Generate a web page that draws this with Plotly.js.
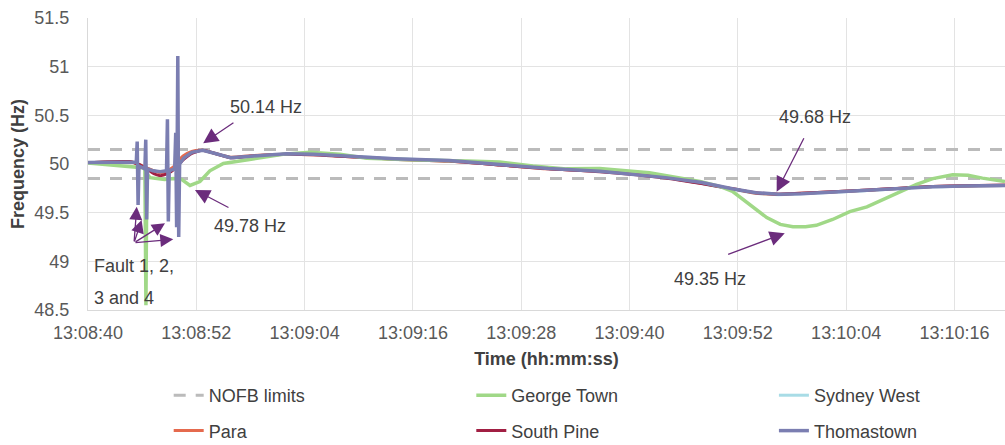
<!DOCTYPE html>
<html>
<head>
<meta charset="utf-8">
<script src="https://cdn.plot.ly/plotly-3.0.1.min.js"></script>
<style>html,body{margin:0;padding:0;background:#fff;}#chart{width:1005px;height:445px;}</style>
</head>
<body>
<div id="chart"></div>
<script>
// Time axis: seconds after 13:08:40
const tickSeconds = [0, 12, 24, 36, 48, 60, 72, 84, 96];
const tickLabels = ['13:08:40','13:08:52','13:09:04','13:09:16','13:09:28','13:09:40','13:09:52','13:10:04','13:10:16'];

const nofbTime = [0, 101.6, null, 0, 101.6];
const nofbFreq = [50.15, 50.15, null, 49.85, 49.85];

const thomastownTime = [0, 2, 4.6, 5.35, 5.45, 5.55, 5.65, 6.0, 6.3, 6.4, 6.5, 6.6, 7.2, 8.0, 8.7, 8.8, 8.9, 9.0, 9.4, 9.6, 9.72, 9.82, 9.95, 10.05, 10.15, 10.6, 11.5, 12.7, 14, 15.8, 18, 22, 25, 28, 34, 40, 45.6, 51, 56.7, 60, 64, 68, 71.4, 74, 76.5, 79, 82, 86, 90, 93.6, 97, 101.6];
const thomastownFreq = [50.015, 50.02, 50.025, 50.02, 50.23, 49.58, 49.98, 49.96, 49.95, 50.25, 49.43, 49.95, 49.93, 49.92, 49.93, 50.46, 49.41, 49.93, 49.95, 49.95, 50.32, 49.35, 51.11, 49.25, 50.0, 50.06, 50.12, 50.14, 50.11, 50.065, 50.08, 50.105, 50.10, 50.085, 50.055, 50.035, 49.995, 49.955, 49.926, 49.90, 49.86, 49.81, 49.745, 49.705, 49.69, 49.695, 49.71, 49.725, 49.745, 49.765, 49.775, 49.78];

const georgeTownTime = [0, 3, 4.6, 5.5, 6.3, 6.42, 6.52, 6.87, 7.5, 8.5, 9.5, 10.4, 11.3, 12.4, 13.5, 15, 17.9, 21.6, 24.6, 27.9, 30.9, 36.4, 42, 45.6, 49.3, 53, 56.7, 62.2, 67.8, 70, 71.4, 73.3, 75.2, 76.7, 78.1, 79.5, 80.7, 82.5, 84.4, 86.3, 88, 89.9, 91.8, 93.6, 95.8, 97.5, 99.1, 101.6];
const georgeTownFreq = [50.01, 49.99, 49.975, 49.965, 49.96, 48.55, 49.9, 49.86, 49.85, 49.84, 49.85, 49.84, 49.78, 49.82, 49.93, 50.005, 50.046, 50.10, 50.12, 50.10, 50.06, 50.04, 50.03, 50.02, 49.98, 49.95, 49.955, 49.91, 49.82, 49.77, 49.72, 49.58, 49.45, 49.38, 49.355, 49.355, 49.37, 49.43, 49.51, 49.56, 49.63, 49.71, 49.79, 49.85, 49.89, 49.885, 49.855, 49.82];

const southPineTime = [0, 4.6, 5.5, 6.5, 7.3, 8.0, 8.8, 9.6, 10.5, 11.5, 12.7, 14, 15.8, 18, 22, 25, 28, 34, 40, 45.6, 51, 56.7, 64, 71.4, 74, 76.5, 79, 86, 93.6, 101.6];
const southPineFreq = [50.015, 50.025, 50.0, 49.95, 49.90, 49.88, 49.9, 49.95, 50.04, 50.11, 50.14, 50.11, 50.065, 50.08, 50.1, 50.095, 50.08, 50.05, 50.03, 49.99, 49.95, 49.92, 49.855, 49.745, 49.705, 49.69, 49.70, 49.73, 49.77, 49.785];

const paraTime = [0, 4.6, 5.5, 6.5, 7.3, 8.0, 8.8, 9.6, 10.5, 11.5, 12.7, 14, 15.8, 18, 22, 25, 28, 34, 40, 45.6, 51, 56.7, 64, 71.4, 74, 76.5, 79, 86, 93.6, 101.6];
const paraFreq = [50.015, 50.025, 50.0, 49.96, 49.93, 49.91, 49.93, 49.98, 50.08, 50.13, 50.14, 50.11, 50.07, 50.085, 50.1, 50.095, 50.08, 50.05, 50.03, 49.99, 49.95, 49.925, 49.86, 49.745, 49.70, 49.69, 49.70, 49.73, 49.77, 49.78];

const sydneyWestTime = [0, 4.6, 5.5, 6.5, 7.3, 8.0, 8.8, 9.6, 10.5, 11.5, 12.7, 14, 15.8, 18, 22, 25, 28, 34, 40, 45.6, 51, 56.7, 64, 71.4, 74, 76.5, 79, 86, 93.6, 101.6];
const sydneyWestFreq = [50.015, 50.025, 50.0, 49.96, 49.93, 49.92, 49.93, 49.97, 50.05, 50.12, 50.14, 50.11, 50.065, 50.08, 50.1, 50.1, 50.085, 50.055, 50.035, 49.995, 49.955, 49.926, 49.86, 49.74, 49.70, 49.685, 49.695, 49.725, 49.765, 49.78];

const font = 'Liberation Sans, Arial, sans-serif';
const txt = '#404040';
const legFont = {family: font, size: 18, color: '#404040'};

const traces = [
  {x: nofbTime, y: nofbFreq, name: 'NOFB limits', mode: 'lines', line: {color: '#BBBBBB', width: 3, dash: '12px,10px'}, legend: 'legend', legendgroup: 'a', legendrank: 1, connectgaps: false},
  {x: sydneyWestTime, y: sydneyWestFreq, name: 'Sydney West', mode: 'lines', line: {color: '#A8DCE6', width: 3, shape: 'spline', smoothing: 0.6}, legend: 'legend3', legendgroup: 'e', legendrank: 1},
  {x: paraTime, y: paraFreq, name: 'Para', mode: 'lines', line: {color: '#E56A4E', width: 3, shape: 'spline', smoothing: 0.6}, legend: 'legend', legendgroup: 'b', legendrank: 2},
  {x: southPineTime, y: southPineFreq, name: 'South Pine', mode: 'lines', line: {color: '#A11F43', width: 3, shape: 'spline', smoothing: 0.6}, legend: 'legend2', legendgroup: 'd', legendrank: 2},
  {x: georgeTownTime, y: georgeTownFreq, name: 'George Town', mode: 'lines', line: {color: '#A0D887', width: 3.5}, legend: 'legend2', legendgroup: 'c', legendrank: 1},
  {x: thomastownTime, y: thomastownFreq, name: 'Thomastown', mode: 'lines', line: {color: '#7B7EB1', width: 3.5}, legend: 'legend3', legendgroup: 'f', legendrank: 2}
];

const arrowColor = '#6B2C7C';
function arrow(x, y, ax, ay, size) {
  return {x: x, y: y, ax: ax, ay: ay, xref: 'x', yref: 'y', axref: 'x', ayref: 'y', text: '', showarrow: true,
    arrowhead: 2, arrowsize: size || 2.3, arrowwidth: 1.3, arrowcolor: arrowColor, standoff: 0};
}
function label(x, y, text, anchor) {
  return {x: x, y: y, xref: 'x', yref: 'y', text: text, showarrow: false, xanchor: anchor || 'center', yanchor: 'middle',
    font: {family: font, size: 18, color: txt}};
}

const annotations = [
  arrow(12.76, 50.214, 16.28, 50.435), label(19.7, 50.586, '50.14 Hz'),
  arrow(11.85, 49.733, 15.73, 49.545), label(17.95, 49.363, '49.78 Hz'),
  arrow(76.3, 49.715, 79.4, 50.28), label(80.6, 50.48, '49.68 Hz'),
  arrow(77.2, 49.288, 70.76, 49.065), label(68.97, 48.818, '49.35 Hz'),
  arrow(5.40, 49.56, 5.1, 49.19, 2), arrow(5.94, 49.425, 5.1, 49.19, 2),
  arrow(8.53, 49.39, 5.1, 49.19, 2), arrow(9.45, 49.226, 5.1, 49.19, 2),
  label(0.44, 48.952, 'Fault 1, 2,', 'left'), label(0.44, 48.623, '3 and 4', 'left')
];

const legBase = {orientation: 'v', bgcolor: 'rgba(0,0,0,0)', font: legFont, xanchor: 'left', yanchor: 'top',
  yref: 'paper', y: -0.2295, tracegroupgap: 9, traceorder: 'grouped'};

const layout = {
  width: 1005, height: 445,
  margin: {l: 88, r: 0, t: 18, b: 135, autoexpand: false},
  paper_bgcolor: '#ffffff', plot_bgcolor: '#ffffff',
  font: {family: font, size: 18, color: '#595959'},
  showlegend: true,
  xaxis: {
    range: [0, 101.6], tickvals: tickSeconds, ticktext: tickLabels,
    showgrid: true, gridcolor: '#E3E3E3', gridwidth: 1,
    showline: true, linecolor: '#D9D9D9', linewidth: 1, zeroline: false,
    ticks: '', ticklabelstandoff: 6, automargin: false,
    tickfont: {family: font, size: 18, color: '#595959'},
    title: {text: '<b>Time (hh:mm:ss)</b>', font: {family: font, size: 18, color: txt}, standoff: 10}
  },
  yaxis: {
    range: [48.5, 51.5], dtick: 0.5, tick0: 48.5,
    showgrid: true, gridcolor: '#E3E3E3', gridwidth: 1,
    showline: true, linecolor: '#D9D9D9', linewidth: 1, zeroline: false,
    ticks: '', ticklabelstandoff: 14, automargin: false,
    tickfont: {family: font, size: 18, color: '#595959'},
    title: {text: '<b>Frequency (Hz)</b>', font: {family: font, size: 18, color: txt}, standoff: 5}
  },
  legend: Object.assign({}, legBase, {x: 0.088}),
  legend2: Object.assign({}, legBase, {x: 0.418}),
  legend3: Object.assign({}, legBase, {x: 0.748}),
  annotations: annotations
};

Plotly.newPlot('chart', traces, layout, {displayModeBar: false, staticPlot: true});
</script>
</body>
</html>
